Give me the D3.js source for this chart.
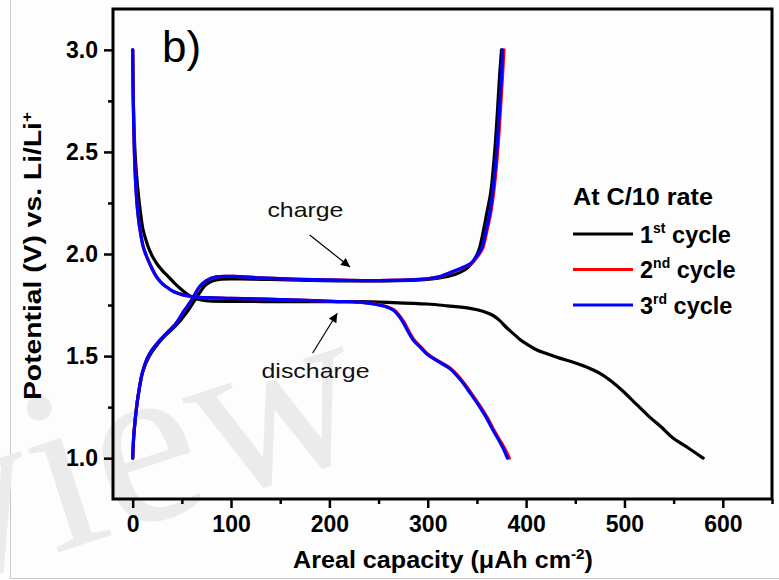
<!DOCTYPE html>
<html>
<head>
<meta charset="utf-8">
<script src="https://cdn.jsdelivr.net/npm/d3@7"></script>
<style>
  body { margin: 0; background: #fff; }
  svg { display: block; }
</style>
</head>
<body>
<svg id="chart" width="779" height="580"></svg>
<script>
// Galvanostatic profiles at C/10: [areal capacity (µAh cm^-2), potential (V)]
const cycle1Discharge = [[0,3.0],[0.5,2.8],[1.5,2.6],[3,2.45],[5,2.33],[7.5,2.22],[10.5,2.12],[14,2.06],[17,2.02],[21,1.98],[25,1.95],[30,1.92],[35,1.895],[43,1.855],[51,1.82],[58,1.795],[64,1.782],[70,1.775],[78,1.77],[100,1.768],[150,1.767],[200,1.767],[231,1.767],[260,1.763],[299,1.755],[320,1.746],[343,1.734],[356,1.72],[366,1.70],[373,1.675],[380,1.64],[387,1.61],[394,1.58],[402,1.555],[411,1.53],[422,1.51],[434,1.49],[448,1.47],[462,1.445],[475,1.415],[487,1.375],[498,1.33],[512,1.265],[526,1.20],[538,1.15],[549,1.10],[565,1.05],[580,1.0]];
const cycle1Charge = [[0,1.0],[1,1.1],[2,1.16],[4,1.25],[6,1.32],[10,1.42],[17,1.5],[30,1.585],[44,1.65],[55,1.715],[62,1.765],[68,1.81],[74,1.848],[81,1.868],[90,1.877],[110,1.878],[170,1.872],[250,1.868],[300,1.875],[320,1.89],[333,1.91],[341,1.935],[347,1.97],[352,2.02],[356,2.1],[360,2.2],[364,2.3],[367,2.44],[369,2.56],[371,2.71],[373,2.87],[375,3.0]];

const cycle2Discharge = [[0,3.0],[0.5,2.8],[1.2,2.6],[2.3,2.42],[4,2.27],[5.5,2.19],[7.4,2.12],[10.5,2.04],[14,1.99],[19,1.935],[24,1.89],[29,1.86],[34,1.84],[42,1.815],[51,1.8],[60,1.792],[68,1.788],[100,1.783],[150,1.777],[203,1.768],[231,1.764],[246,1.755],[256,1.745],[266,1.725],[271,1.70],[276,1.665],[281,1.62],[286,1.58],[293,1.545],[300,1.51],[311,1.475],[323,1.44],[334,1.385],[344,1.32],[354,1.25],[361,1.195],[367,1.14],[373,1.09],[378.5,1.045],[383,1.0]];
const cycle2Charge = [[0,1.0],[1,1.1],[2,1.16],[4,1.25],[5.4,1.3],[10.5,1.43],[17,1.51],[30,1.59],[44,1.66],[52,1.72],[58,1.76],[63,1.8],[68,1.84],[75,1.87],[85,1.888],[102,1.89],[130,1.883],[170,1.876],[210,1.872],[251,1.87],[299,1.878],[313,1.889],[327,1.915],[337,1.935],[345,1.955],[351,1.99],[356,2.03],[360,2.11],[364,2.2],[367,2.3],[370,2.44],[372,2.56],[374,2.71],[376,2.87],[377.5,3.0]];

const cycle3Discharge = [[0,3.0],[0.5,2.8],[1.2,2.6],[2.3,2.42],[4,2.27],[5.5,2.19],[7.4,2.12],[10.5,2.04],[14,1.99],[19,1.935],[24,1.89],[29,1.86],[34,1.84],[42,1.815],[51,1.8],[60,1.792],[68,1.788],[100,1.783],[150,1.777],[203,1.768],[231,1.764],[245,1.755],[255,1.745],[265,1.725],[270,1.70],[275,1.665],[280,1.62],[285,1.58],[292,1.545],[299,1.51],[310,1.475],[322,1.44],[333,1.385],[343,1.32],[353,1.25],[360,1.195],[366,1.14],[372,1.09],[377,1.045],[381,1.0]];
const cycle3Charge = [[0,1.0],[1,1.1],[2,1.16],[4,1.25],[5.4,1.3],[10.5,1.43],[17,1.51],[30,1.59],[44,1.66],[52,1.72],[58,1.76],[63,1.8],[68,1.84],[75,1.87],[85,1.888],[102,1.89],[130,1.883],[170,1.876],[210,1.872],[251,1.87],[299,1.878],[312,1.889],[326,1.915],[336,1.935],[344,1.955],[350,1.99],[355,2.03],[359,2.11],[363,2.2],[366,2.3],[369,2.44],[371,2.56],[373,2.71],[375,2.87],[376,3.0]];

const seriesNames = ["1st cycle", "2nd cycle", "3rd cycle"];
const seriesColors = ["#000000", "#ff0000", "#0000ff"];

const xMajorTicks = [0, 100, 200, 300, 400, 500, 600];
const xMinorTicks = [50, 150, 250, 350, 450, 550, 650];
const yMajorTicks = [1.0, 1.5, 2.0, 2.5, 3.0];
const yMinorTicks = [1.25, 1.75, 2.25, 2.75];

const xDomain = [-20, 650];
const yDomain = [0.8, 3.2];

// Annotation arrows, in data units: [from, to]
const chargeArrow = [[180, 2.093], [221, 1.936]];
const dischargeArrow = [[183, 1.515], [208, 1.71]];
const chargeLabelAt = [137, 2.18];
const dischargeLabelAt = [131, 1.392];

const FONT = "'Liberation Sans', Arial, Helvetica, sans-serif";

const svg = d3.select("#chart");
const plotLeft = 113, plotRight = 772, plotTop = 9, plotBottom = 499;

const x = d3.scaleLinear().domain(xDomain).range([plotLeft, plotRight]);
const y = d3.scaleLinear().domain(yDomain).range([plotBottom, plotTop]);

// Background and faint border
svg.append("rect").attr("width", 779).attr("height", 580).attr("fill", "#fdfdfd");
svg.append("path").attr("d", "M10.5,0V578.5H779").attr("fill", "none").attr("stroke", "#c8c8c8").attr("stroke-width", 1);

// Watermark
svg.append("text")
  .attr("transform", "translate(-58,590) rotate(-18)")
  .attr("font-family", "'Liberation Serif', 'Times New Roman', serif")
  .attr("font-size", 235)
  .attr("fill", "#ebebeb")
  .text("view");

// Axes
svg.append("g").attr("transform", `translate(0,${plotBottom})`)
  .call(d3.axisBottom(x).tickValues(xMajorTicks).tickSize(9).tickPadding(8).tickFormat(d3.format("d")));
svg.append("g").attr("transform", `translate(0,${plotBottom})`)
  .call(d3.axisBottom(x).tickValues(xMinorTicks).tickSize(5).tickFormat(""));
svg.append("g").attr("transform", `translate(${plotLeft},0)`)
  .call(d3.axisLeft(y).tickValues(yMajorTicks).tickSize(9).tickPadding(6).tickFormat(d3.format(".1f")));
svg.append("g").attr("transform", `translate(${plotLeft},0)`)
  .call(d3.axisLeft(y).tickValues(yMinorTicks).tickSize(5).tickFormat(""));

svg.selectAll(".domain").remove();
svg.selectAll(".tick line").attr("stroke", "#000").attr("stroke-width", 2.5);
svg.selectAll(".tick text")
  .attr("font-family", FONT).attr("font-size", 23).attr("font-weight", "bold").attr("fill", "#000");

// Curves
const line = d3.line().x(d => x(d[0])).y(d => y(d[1])).curve(d3.curveCatmullRom.alpha(0.5));
const cycles = [
  [cycle1Discharge, cycle1Charge],
  [cycle2Discharge, cycle2Charge],
  [cycle3Discharge, cycle3Charge]
];
const curves = svg.append("g");
cycles.forEach((branches, i) => {
  branches.forEach(b => {
    curves.append("path")
      .attr("d", line(b))
      .attr("fill", "none")
      .attr("stroke", seriesColors[i])
      .attr("stroke-width", 3.2)
      .attr("stroke-linejoin", "round")
      .attr("stroke-linecap", "round");
  });
});

// Plot frame
svg.append("rect")
  .attr("x", plotLeft).attr("y", plotTop)
  .attr("width", plotRight - plotLeft).attr("height", plotBottom - plotTop)
  .attr("fill", "none").attr("stroke", "#000").attr("stroke-width", 3);

// Arrow annotations
svg.append("defs").append("marker")
  .attr("id", "head").attr("viewBox", "0 0 10 10")
  .attr("refX", 10).attr("refY", 5)
  .attr("markerWidth", 11).attr("markerHeight", 9)
  .attr("markerUnits", "userSpaceOnUse")
  .attr("orient", "auto")
  .append("path").attr("d", "M0,0L10,5L0,10Z").attr("fill", "#000");

[chargeArrow, dischargeArrow].forEach(a => {
  svg.append("line")
    .attr("x1", x(a[0][0])).attr("y1", y(a[0][1]))
    .attr("x2", x(a[1][0])).attr("y2", y(a[1][1]))
    .attr("stroke", "#000").attr("stroke-width", 1.2)
    .attr("marker-end", "url(#head)");
});

svg.append("text")
  .attr("x", x(chargeLabelAt[0])).attr("y", y(chargeLabelAt[1]))
  .attr("font-family", FONT).attr("font-size", 21).attr("fill", "#111")
  .attr("textLength", 76).attr("lengthAdjust", "spacingAndGlyphs")
  .text("charge");
svg.append("text")
  .attr("x", x(dischargeLabelAt[0])).attr("y", y(dischargeLabelAt[1]))
  .attr("font-family", FONT).attr("font-size", 21).attr("fill", "#111")
  .attr("textLength", 108).attr("lengthAdjust", "spacingAndGlyphs")
  .text("discharge");

// Panel label
svg.append("text")
  .attr("x", 162).attr("y", 62)
  .attr("font-family", FONT).attr("font-size", 44).attr("fill", "#000")
  .text("b)");

// Axis titles
const xt = svg.append("text")
  .attr("x", 443).attr("y", 568).attr("text-anchor", "middle")
  .attr("font-family", FONT).attr("font-size", 23).attr("font-weight", "bold")
  .attr("textLength", 300).attr("lengthAdjust", "spacingAndGlyphs");
xt.append("tspan").text("Areal capacity (\u03bcAh cm");
xt.append("tspan").attr("font-size", 14).attr("dy", -9).text("-2");
xt.append("tspan").attr("dy", 9).text(")");

const yt = svg.append("text")
  .attr("transform", "translate(41,256) rotate(-90)").attr("text-anchor", "middle")
  .attr("font-family", FONT).attr("font-size", 23).attr("font-weight", "bold")
  .attr("textLength", 288).attr("lengthAdjust", "spacingAndGlyphs");
yt.append("tspan").text("Potential (V) vs. Li/Li");
yt.append("tspan").attr("font-size", 14).attr("dy", -9).text("+");

// Legend
const legend = svg.append("g").attr("font-family", FONT).attr("font-weight", "bold");
legend.append("text").attr("x", 573).attr("y", 205).attr("font-size", 23)
  .attr("textLength", 140).attr("lengthAdjust", "spacingAndGlyphs")
  .text("At C/10 rate");
const sups = ["st", "nd", "rd"];
seriesNames.forEach((name, i) => {
  const ly = 234 + i * 35.5;
  legend.append("line")
    .attr("x1", 573).attr("x2", 633).attr("y1", ly).attr("y2", ly)
    .attr("stroke", seriesColors[i]).attr("stroke-width", 3);
  const t = legend.append("text").attr("x", 640).attr("y", ly + 8.5).attr("font-size", 23.5);
  t.append("tspan").text(name.charAt(0));
  t.append("tspan").attr("font-size", 14).attr("dy", -10).text(sups[i]);
  t.append("tspan").attr("dy", 10).text(" " + name.split(" ")[1]);
});
</script>
</body>
</html>
